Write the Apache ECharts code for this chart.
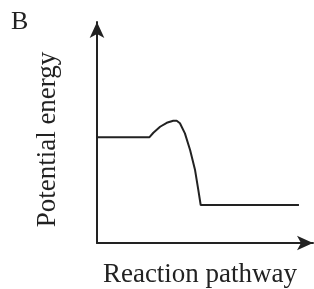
<!DOCTYPE html>
<html>
<head>
<meta charset="utf-8">
<script src="https://cdn.jsdelivr.net/npm/echarts@6/dist/echarts.min.js"></script>
<style>
  html, body { margin: 0; padding: 0; background: #fff; }
  #chart { width: 314px; height: 289px; }
</style>
</head>
<body>
<div id="chart"></div>
<script>
// reaction pathway position (0-100) and potential energy (0-100)
const pathway = [0, 24.2, 26.1, 29.2, 32.3, 35.3, 36.9, 38.4, 40.7, 43.1, 45.4, 46.9, 48.0, 93.5]
const energy = [47.8, 47.8, 49.9, 52.6, 54.4, 55.3, 55.3, 54.2, 49.6, 42.1, 33.0, 24.0, 17.2, 17.2]
const panelLabel = 'B'
const xName = 'Reaction pathway'
const yName = 'Potential energy'

const ink = '#222'
const serif = '"Liberation Serif", "DejaVu Serif", serif'

const chart = echarts.init(document.getElementById('chart'))

chart.setOption({
  animation: false,
  backgroundColor: '#fff',
  grid: { left: 97, right: 1, top: 22, bottom: 46, outerBoundsMode: 'none', containLabel: false },
  graphic: [
    {
      type: 'text',
      left: 11,
      top: 9,
      style: { text: panelLabel, font: '26px "Liberation Serif", serif', fill: ink }
    }
  ],
  xAxis: {
    type: 'value',
    min: 0,
    max: 100,
    name: xName,
    nameLocation: 'middle',
    nameGap: 18,
    nameTextStyle: { fontSize: 27, fontFamily: serif, color: ink, verticalAlign: 'top', padding: [0, 10, 0, 0] },
    axisLine: { lineStyle: { color: ink, width: 2 }, symbol: ['none', 'arrow'], symbolSize: [11, 16] },
    axisTick: { show: false },
    axisLabel: { show: false },
    splitLine: { show: false }
  },
  yAxis: {
    type: 'value',
    min: 0,
    max: 100,
    name: yName,
    nameLocation: 'middle',
    nameGap: 36,
    nameTextStyle: { fontSize: 27, fontFamily: serif, color: ink, padding: [0, 14, 0, 0] },
    axisLine: { show: true, lineStyle: { color: ink, width: 2 }, symbol: ['none', 'arrow'], symbolSize: [11, 16] },
    axisTick: { show: false },
    axisLabel: { show: false },
    splitLine: { show: false }
  },
  series: [
    {
      type: 'line',
      data: pathway.map((x, i) => [x, energy[i]]),
      symbol: 'none',
      lineStyle: { color: ink, width: 2 }
    }
  ]
})
</script>
</body>
</html>
